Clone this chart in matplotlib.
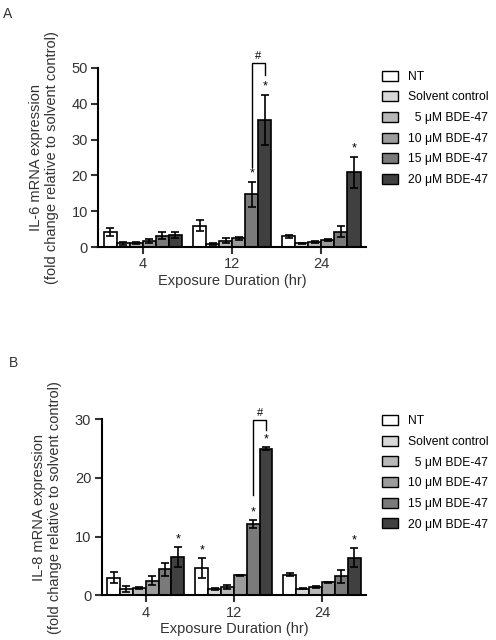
import numpy as np
import matplotlib
matplotlib.use('Agg')
import matplotlib.pyplot as plt
from matplotlib.patches import Patch

plt.rcParams['font.family'] = ['Liberation Sans', 'DejaVu Sans']

durations = ['4', '12', '24']
series = ['NT', 'Solvent control', '  5 μM BDE-47', '10 μM BDE-47',
          '15 μM BDE-47', '20 μM BDE-47']
colors = ['#ffffff', '#d8d8d8', '#b8b8b8', '#9c9c9c', '#7a7a7a', '#404040']

# IL-6 (panel A): rows = series, cols = durations
il6_mean = [[4.3, 6.0, 3.0],
            [1.0, 0.9, 1.0],
            [1.1, 1.8, 1.3],
            [1.7, 2.5, 2.0],
            [3.2, 14.7, 4.3],
            [3.3, 35.5, 20.8]]
il6_err = [[1.1, 1.5, 0.4],
           [0.5, 0.2, 0.2],
           [0.2, 0.6, 0.3],
           [0.5, 0.4, 0.2],
           [1.0, 3.5, 1.6],
           [0.9, 7.0, 4.4]]
il6_star = [(4, 1), (5, 1), (5, 2)]

# IL-8 (panel B)
il8_mean = [[3.0, 4.6, 3.5],
            [1.0, 1.0, 1.1],
            [1.25, 1.4, 1.4],
            [2.5, 3.4, 2.2],
            [4.4, 12.1, 3.2],
            [6.5, 25.0, 6.4]]
il8_err = [[1.0, 1.7, 0.3],
           [0.5, 0.15, 0.1],
           [0.15, 0.4, 0.15],
           [0.7, 0.05, 0.05],
           [1.1, 0.7, 1.1],
           [1.7, 0.2, 1.6]]
il8_star = [(5, 0), (0, 1), (4, 1), (5, 1), (5, 2)]


def panel(ax, mean, err, stars, ylabel, ymax, yticks, bracket, leg_top):
    n = len(series)
    width = 0.146
    x = np.arange(len(durations))
    mean = np.array(mean)
    err = np.array(err)
    for i in range(n):
        pos = x + (i - (n - 1) / 2) * width
        ax.bar(pos, mean[i], width, color=colors[i], edgecolor='black',
               linewidth=1.2, zorder=2)
        ax.errorbar(pos, mean[i], yerr=err[i], fmt='none', ecolor='black',
                    elinewidth=1.2, capsize=3, capthick=1.2, zorder=3)
    for i, g in stars:
        pos = g + (i - (n - 1) / 2) * width
        ax.text(pos, mean[i, g] + err[i, g] + ymax * 0.012, '*',
                ha='center', va='bottom', fontsize=9)

    # bracket between 15 and 20 uM at 12 hr
    (y_top, y_left, y_right) = bracket
    xl = 1 + (4 - (n - 1) / 2) * width
    xr = 1 + (5 - (n - 1) / 2) * width
    ax.plot([xl, xl, xr, xr], [y_left, y_top, y_top, y_right], color='black',
            lw=1.0, clip_on=False)
    ax.text((xl + xr) / 2, y_top + ymax * 0.01, '#', ha='center',
            va='bottom', fontsize=8)

    ax.set_xlim(-0.5, 2.5)
    ax.set_ylim(0, ymax)
    ax.set_yticks(yticks)
    ax.set_xticks(x)
    ax.set_xticklabels(durations)
    ax.spines['top'].set_visible(False)
    ax.spines['right'].set_visible(False)
    ax.spines['left'].set_linewidth(1.5)
    ax.spines['bottom'].set_linewidth(1.5)
    ax.tick_params(width=1.5, length=5, labelsize=10.5, colors='#333333',
                   pad=2.5)
    ax.set_ylabel(ylabel, fontsize=10.5, color='#333333', labelpad=9)
    ax.set_xlabel('Exposure Duration (hr)', fontsize=10.5, color='#333333',
                  labelpad=2)

    handles = [Patch(facecolor=c, edgecolor='black', linewidth=1.0)
               for c in colors]
    ax.legend(handles, series, loc='upper left',
              bbox_to_anchor=(1.02, leg_top),
              frameon=False, fontsize=8.7, handlelength=1.3,
              handleheight=0.9, labelspacing=0.7, handletextpad=0.8)


fig = plt.figure(figsize=(4.96, 6.4), dpi=100)
axA = fig.add_axes([0.198, 0.614, 0.540, 0.280])
axB = fig.add_axes([0.205, 0.070, 0.533, 0.275])

panel(axA, il6_mean, il6_err, il6_star,
      'IL-6 mRNA expression\n(fold change relative to solvent control)',
      50, [0, 10, 20, 30, 40, 50], (51.4, 22.3, 48.0), 1.045)
panel(axB, il8_mean, il8_err, il8_star,
      'IL-8 mRNA expression\n(fold change relative to solvent control)',
      30, [0, 10, 20, 30], (29.9, 17.1, 28.2), 1.085)

fig.text(0.006, 0.978, 'A', fontsize=10, va='center', color='#333333')
fig.text(0.018, 0.433, 'B', fontsize=10, va='center', color='#333333')

fig.savefig('out.png', dpi=100, facecolor='white')
